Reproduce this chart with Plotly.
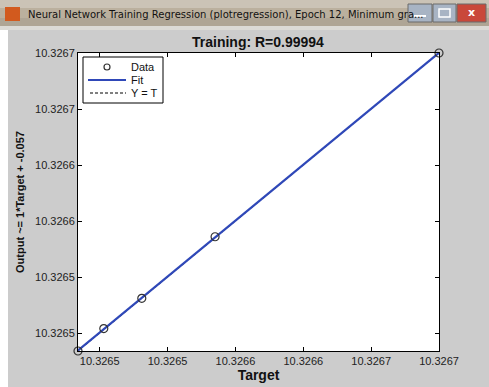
import numpy as np
import plotly.graph_objects as go

# ---- data ----
target = [10.326434, 10.326453, 10.326481, 10.326535, 10.326700]
output = [10.326434, 10.326454, 10.326481, 10.326536, 10.326700]
axis_range = [10.326434, 10.326700]
tick_vals = [10.32645, 10.32650, 10.32655, 10.32660, 10.32665, 10.32670]
tick_text = ["10.3265", "10.3265", "10.3266", "10.3266", "10.3267", "10.3267"]
legend_labels = ["Data", "Fit", "Y = T"]
title_text = "Training: R=0.99994"
window_title = "Neural Network Training Regression (plotregression), Epoch 12, Minimum gra..."

W, H = 489, 387
L, R, T, B = 78, 50, 53, 36
FIT_COLOR = "#2f48b8"

coef = np.polyfit(target, output, 1)
fit_x = list(axis_range)
fit_y = [coef[0] * v + coef[1] for v in fit_x]

fig = go.Figure()
fig.add_trace(go.Scatter(x=fit_x, y=fit_x, mode="lines", name=legend_labels[2],
                         line=dict(color="black", width=1, dash="3px,2px")))
fig.add_trace(go.Scatter(x=fit_x, y=fit_y, mode="lines", name=legend_labels[1],
                         line=dict(color=FIT_COLOR, width=2.2)))
fig.add_trace(go.Scatter(x=target, y=output, mode="markers", name=legend_labels[0],
                         marker=dict(symbol="circle-open", size=8, color="#333333",
                                     line=dict(width=1.2)), cliponaxis=False))

axis_common = dict(range=axis_range, tickvals=tick_vals, ticktext=tick_text, automargin=False,
                   ticks="inside", ticklen=4, tickcolor="black", showgrid=False,
                   zeroline=False, showline=True, linecolor="black", linewidth=1,
                   mirror="ticks", tickfont=dict(family="Liberation Sans", size=11, color="#222"))

fig.update_layout(
    width=W, height=H,
    margin=dict(l=L, r=R, t=T, b=B, pad=0),
    paper_bgcolor="#cccccc", plot_bgcolor="white",
    xaxis=dict(**axis_common, title=dict(text="<b>Target</b>", standoff=0,
               font=dict(family="Liberation Sans", size=14, color="#111"))),
    yaxis=dict(**axis_common, title=dict(text="<b>Output ~= 1*Target + -0.057</b>", standoff=8,
               font=dict(family="Liberation Sans", size=11, color="#111"))),
    showlegend=False,
)

shapes = []
pw, ph = W - L - R, H - T - B
def px(x):
    return (x - L) / pw
def py(y):
    return 1 - (y - T) / ph
# left white strip
shapes.append(dict(type="rect", xref="paper", yref="paper", x0=px(0), x1=px(8),
                   y0=py(H), y1=py(30), fillcolor="white", line=dict(width=0), layer="below"))
# title bar
bands = [("#cbc3b6", 0, 8), ("#bbb09e", 8, 18), ("#afa595", 18, 26), ("#dcdad6", 26, 30)]
for c, y0, y1 in bands:
    shapes.append(dict(type="rect", xref="paper", yref="paper", x0=px(0), x1=px(W),
                       y0=py(y1), y1=py(y0), fillcolor=c, line=dict(width=0)))
# icon
shapes.append(dict(type="rect", xref="paper", yref="paper", x0=px(5), x1=px(20), y0=py(21), y1=py(7),
                   fillcolor="#d25a1e", line=dict(width=0)))
# buttons
for x0, x1, c in [(408, 432, "#a8b4c4"), (433, 456, "#a8b4c4"), (457, 486, "#c9483a")]:
    shapes.append(dict(type="rect", xref="paper", yref="paper", x0=px(x0), x1=px(x1), y0=py(22), y1=py(4),
                       fillcolor=c, line=dict(color="#6a6a6a", width=1)))
shapes.append(dict(type="line", xref="paper", yref="paper", x0=px(414), x1=px(426), y0=py(16), y1=py(16),
                   line=dict(color="white", width=2)))
shapes.append(dict(type="rect", xref="paper", yref="paper", x0=px(439), x1=px(450), y0=py(17), y1=py(9),
                   line=dict(color="white", width=1.5)))

# legend box (drawn by hand to match the compact MATLAB legend)
shapes.append(dict(type="rect", xref="paper", yref="paper", x0=px(83), x1=px(163), y0=py(103), y1=py(57),
                   fillcolor="white", line=dict(color="black", width=1)))
shapes.append(dict(type="circle", xref="paper", yref="paper", x0=px(104), x1=px(110), y0=py(70), y1=py(64),
                   line=dict(color="#333333", width=1.2)))
shapes.append(dict(type="line", xref="paper", yref="paper", x0=px(88), x1=px(126), y0=py(80), y1=py(80),
                   line=dict(color=FIT_COLOR, width=2)))
shapes.append(dict(type="line", xref="paper", yref="paper", x0=px(90), x1=px(126), y0=py(93), y1=py(93),
                   line=dict(color="black", width=1, dash="3px,2px")))
fig.update_layout(shapes=shapes)

for lab, yy in zip(legend_labels, [67, 80, 93]):
    fig.add_annotation(xref="paper", yref="paper", x=px(129), y=py(yy), xanchor="left", yanchor="middle",
                       text=lab, showarrow=False,
                       font=dict(family="Liberation Sans", size=11, color="#111"))

fig.add_annotation(xref="paper", yref="paper", x=px(26), y=py(14), xanchor="left", yanchor="middle",
                   text=window_title, showarrow=False,
                   font=dict(family="DejaVu Sans", size=10, color="#111"))
fig.add_annotation(xref="paper", yref="paper", x=px(471), y=py(13), xanchor="center", yanchor="middle",
                   text="<b>x</b>", showarrow=False, font=dict(family="DejaVu Sans", size=11, color="white"))
fig.add_annotation(xref="paper", yref="paper", x=px(258), y=py(42), xanchor="center", yanchor="middle",
                   text="<b>" + title_text + "</b>", showarrow=False,
                   font=dict(family="Liberation Sans", size=14, color="#111"))

fig.write_html("out.html", post_script="document.body.style.margin='0px';",
               config={"displayModeBar": False})
